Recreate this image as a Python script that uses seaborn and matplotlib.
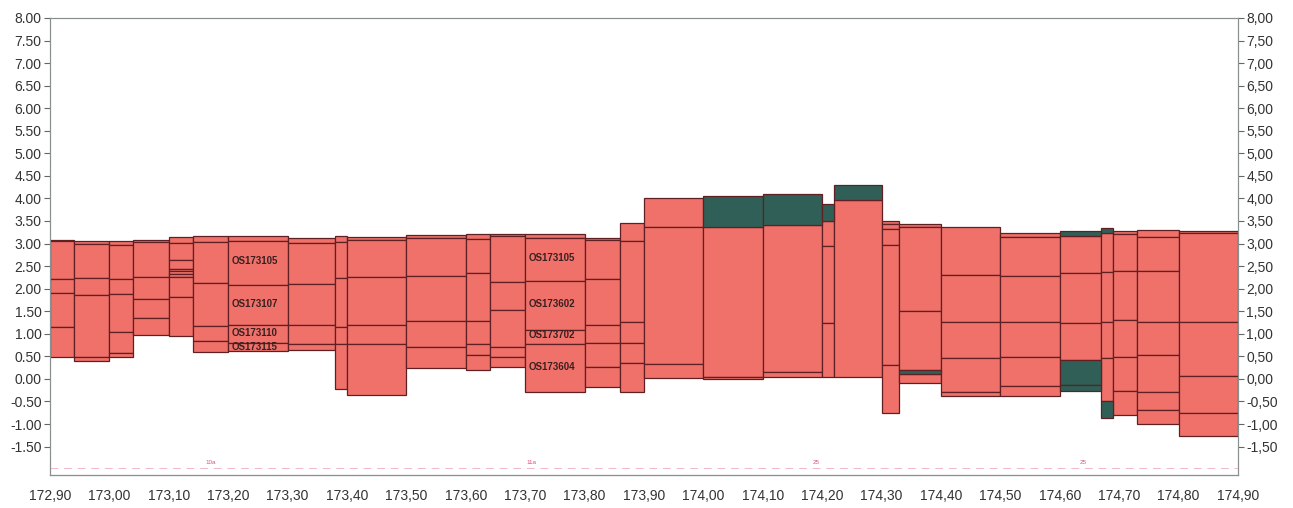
import numpy as np
import pandas as pd
import seaborn as sns
import matplotlib.pyplot as plt

# column extents (chainage, km)
col_start = [172.90, 172.94, 173.00, 173.04, 173.10, 173.14, 173.20, 173.30, 173.38, 173.40,
             173.50, 173.60, 173.64, 173.70, 173.80, 173.86, 173.90, 174.00, 174.10, 174.20,
             174.22, 174.30, 174.33, 174.40, 174.50, 174.60, 174.67, 174.69, 174.73, 174.80]
col_end = col_start[1:] + [174.90]

# layer boundaries per column, top to bottom
col_bounds = [
    [3.08, 3.05, 2.22, 1.91, 1.15, 0.49],
    [3.06, 3.00, 2.24, 1.86, 0.49, 0.40],
    [3.06, 2.97, 2.22, 1.88, 1.04, 0.57, 0.48],
    [3.08, 3.03, 2.26, 1.77, 1.34, 0.97],
    [3.15, 3.01, 2.64, 2.43, 2.39, 2.33, 2.26, 1.82, 0.96],
    [3.17, 3.04, 2.12, 1.18, 0.84, 0.60],
    [3.16, 3.06, 2.09, 1.19, 0.80, 0.62],
    [3.12, 3.01, 2.10, 1.19, 0.77, 0.63],
    [3.17, 3.04, 2.23, 1.16, 0.78, -0.22],
    [3.15, 3.08, 2.26, 1.19, 0.78, -0.35],
    [3.19, 3.12, 2.28, 1.29, 0.71, 0.24],
    [3.21, 3.10, 2.35, 1.29, 0.78, 0.53, 0.20],
    [3.21, 3.17, 2.15, 1.53, 0.71, 0.48, 0.27],
    [3.21, 3.12, 2.17, 1.08, 0.78, -0.30],
    [3.12, 3.08, 2.22, 1.19, 0.80, 0.27, -0.18],
    [3.46, 3.05, 1.26, 0.80, 0.35, -0.28],
    [4.01, 3.37, 0.33, 0.02],
    [4.06, 3.37, 0.04, 0.00],
    [4.10, 3.41, 0.15, 0.04],
    [3.88, 3.50, 2.95, 1.24, 0.05],
    [4.30, 3.97, 0.05],
    [3.50, 3.43, 3.32, 2.97, 0.31, -0.75],
    [3.43, 3.37, 1.51, 0.20, 0.10, -0.10],
    [3.37, 2.30, 1.26, 0.47, -0.30, -0.39],
    [3.24, 3.15, 2.27, 1.27, 0.49, -0.16, -0.38],
    [3.28, 3.17, 2.35, 1.24, 0.42, -0.13, -0.26],
    [3.35, 3.23, 2.37, 1.26, 0.47, -0.48, -0.86],
    [3.28, 3.21, 2.39, 1.31, 0.49, -0.26, -0.80],
    [3.30, 3.15, 2.39, 1.26, 0.53, -0.30, -0.69, -1.00],
    [3.28, 3.23, 1.26, 0.07, -0.75, -1.26],
]

# which layers (index from top) are the dark material
teal_layers = [[], [], [], [], [], [], [], [], [], [], [], [], [], [], [], [], [],
               [0], [0], [0], [0], [], [3], [], [], [0, 4, 5], [0, 5], [], [], []]

# sample labels
label_text = ["OS173105", "OS173107", "OS173110", "OS173115",
              "OS173105", "OS173602", "OS173702", "OS173604"]
label_x = [173.205] * 4 + [173.705] * 4
label_y = [2.62, 1.66, 1.02, 0.71, 2.68, 1.66, 0.98, 0.27]

# faint marks along the bottom
mark_text = ["10a", "11a", "25", "25"]
mark_x = [173.17, 173.71, 174.19, 174.64]

rows = []
for i, bounds in enumerate(col_bounds):
    for j in range(len(bounds) - 1):
        rows.append({"x0": col_start[i], "width": col_end[i] - col_start[i],
                     "bottom": bounds[j + 1], "height": bounds[j] - bounds[j + 1],
                     "kind": "teal" if j in teal_layers[i] else "red"})
df = pd.DataFrame(rows)

sns.set_style("white")
plt.rcParams['font.family'] = ['Liberation Sans', 'DejaVu Sans']

fig = plt.figure(figsize=(12.93, 5.08), dpi=100)
ax = fig.add_axes([0.0387, 0.065, 0.9188, 0.8996])

palette = {"red": "#f0716a", "teal": "#2f5f56"}
for kind, part in df.groupby("kind"):
    ax.bar(part["x0"], part["height"], width=part["width"], bottom=part["bottom"],
           align="edge", color=palette[kind], edgecolor="#5e2022", linewidth=0.9)

for t, x, y in zip(label_text, label_x, label_y):
    ax.text(x, y, t, fontsize=7, fontweight="bold", color="#3a2020", va="center", ha="left")

ax.plot([172.90, 174.90], [-1.97, -1.97], color="#f2b8c8", lw=0.7, ls=(0, (8, 6)))
for t, x in zip(mark_text, mark_x):
    ax.text(x, -1.86, t, fontsize=4.5, color="#e0507f", ha="center", va="center")

ax.set_xlim(172.90, 174.90)
ax.set_ylim(-2.13, 8.0)
xt = np.round(np.arange(172.90, 174.901, 0.1), 2)
ax.set_xticks(xt)
ax.set_xticklabels([f"{v:.2f}".replace(".", ",") for v in xt])
yt = np.arange(-1.5, 8.01, 0.5)
ax.set_yticks(yt)
ax.set_yticklabels([f"{v:.2f}" for v in yt])

ax2 = ax.twinx()
ax2.set_ylim(ax.get_ylim())
ax2.set_yticks(yt)
ax2.set_yticklabels([f"{v:.2f}".replace(".", ",") for v in yt])

for a in (ax, ax2):
    for s in a.spines.values():
        s.set_color("#8a9090")
        s.set_linewidth(0.8)
    a.tick_params(axis="both", direction="out", length=4, width=0.8, color="#606868",
                  labelsize=10, labelcolor="#333333", pad=2)
ax.tick_params(axis="x", pad=6)
ax.spines["bottom"].set_color("#303030")

plt.savefig("out.png", dpi=100)
